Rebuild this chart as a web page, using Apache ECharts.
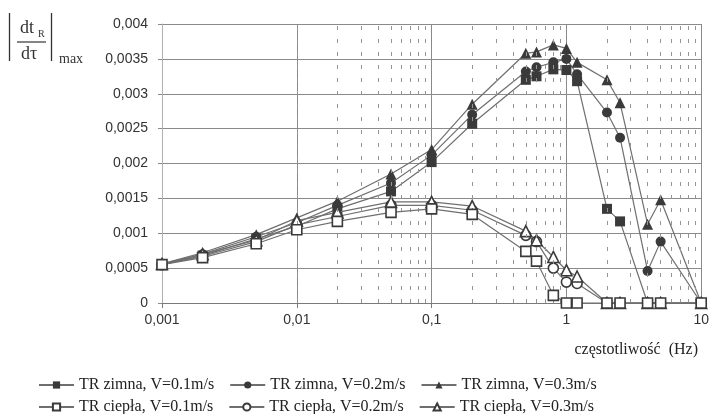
<!DOCTYPE html>
<html>
<head>
<meta charset="utf-8">
<script src="https://cdn.jsdelivr.net/npm/echarts@6/dist/echarts.min.js"></script>
<style>
  html, body { margin: 0; padding: 0; background: #fff; }
  #chart { width: 712px; height: 414px; }
</style>
</head>
<body>
<div id="chart"></div>
<script>
// Frequencies (Hz) of the measurement points
const freq = [0.001, 0.002, 0.005, 0.01, 0.02, 0.05, 0.1, 0.2, 0.5, 0.6, 0.8, 1, 1.2, 2, 2.5, 4, 5, 10];

// |dtR/dτ|max for the cold medium (TR zimna)
const zimnaV01 = [0.00055, 0.00068, 0.00092, 0.0011, 0.00135, 0.0016, 0.00202, 0.00257, 0.0032, 0.00325, 0.00335, 0.00334, 0.00318, 0.00135, 0.00117, 0, 0, 0];
const zimnaV02 = [0.00055, 0.0007, 0.00095, 0.00115, 0.0014, 0.00172, 0.00212, 0.0027, 0.00332, 0.00338, 0.00345, 0.0035, 0.00328, 0.00273, 0.00237, 0.00046, 0.00088, 0];
const zimnaV03 = [0.00056, 0.00072, 0.00098, 0.00122, 0.00146, 0.00185, 0.0022, 0.00285, 0.00358, 0.0036, 0.0037, 0.00365, 0.00345, 0.0032, 0.00287, 0.00113, 0.00148, 0];

// |dtR/dτ|max for the warm medium (TR ciepła)
const cieplaV01 = [0.00055, 0.00065, 0.00085, 0.00105, 0.00117, 0.0013, 0.00135, 0.00127, 0.00074, 0.0006, 0.00011, 0, 0, 0, 0, 0, 0, 0];
const cieplaV02 = [0.00055, 0.00067, 0.00088, 0.00112, 0.00124, 0.0014, 0.0014, 0.00133, 0.00097, 0.00088, 0.0005, 0.0003, 0.00028, 0, 0, 0, 0, 0];
const cieplaV03 = [0.00056, 0.0007, 0.0009, 0.00118, 0.0013, 0.00145, 0.00145, 0.00139, 0.00103, 0.0009, 0.00066, 0.00047, 0.00038, 0, 0, 0, 0, 0];

const seriesNames = [
  'TR zimna, V=0.1m/s', 'TR zimna, V=0.2m/s', 'TR zimna, V=0.3m/s',
  'TR ciepła, V=0.1m/s', 'TR ciepła, V=0.2m/s', 'TR ciepła, V=0.3m/s'
];
const xAxisTitle = 'częstotliwość  (Hz)';

// Decimal comma formatting for tick labels
function fmt(v) {
  if (Math.abs(v) < 1e-12) return '0';
  return String(Number(v.toPrecision(6))).replace('.', ',');
}

// Log-scale minor grid positions (2..9 within each decade)
const minorFreq = [];
[0.001, 0.01, 0.1, 1].forEach(d => {
  for (let k = 2; k <= 9; k++) minorFreq.push(Number((d * k).toPrecision(6)));
});

const markerDark = '#3a3a3a';
const lineGray = '#6f6f6f';

function mkSeries(name, values, symbol, size, hollow, z) {
  return {
    name: name,
    type: 'line',
    data: freq.map((f, i) => [f, values[i]]),
    symbol: symbol,
    symbolSize: size,
    showAllSymbol: true,
    clip: false,
    z: z,
    lineStyle: { color: lineGray, width: 1.2 },
    itemStyle: hollow
      ? { color: '#ffffff', borderColor: markerDark, borderWidth: 1.6 }
      : { color: markerDark, borderColor: markerDark, borderWidth: 0 },
    emphasis: { disabled: true },
    animation: false
  };
}

const chart = echarts.init(document.getElementById('chart'), null, { renderer: 'canvas' });

const legendText = { fontFamily: 'Liberation Serif', fontSize: 16, color: '#222' };

chart.setOption({
  backgroundColor: '#ffffff',
  animation: false,
  grid: { left: 162, right: 10, top: 24, bottom: 111, containLabel: false },
  xAxis: {
    type: 'log',
    logBase: 10,
    min: 0.001,
    max: 10,
    axisLine: { show: true, onZero: false, lineStyle: { color: '#7a7a7a', width: 1 } },
    axisTick: { show: true, length: 5, lineStyle: { color: '#7a7a7a' } },
    minorTick: { show: false },
    splitLine: { show: true, lineStyle: { color: '#8a8a8a', width: 1 } },
    axisLabel: {
      margin: 10,
      fontFamily: 'Liberation Sans',
      fontSize: 14,
      color: '#333',
      formatter: fmt
    }
  },
  yAxis: {
    type: 'value',
    min: 0,
    max: 0.004,
    interval: 0.0005,
    axisLine: { show: true, lineStyle: { color: '#b0b0b0', width: 1 } },
    axisTick: { show: true, length: 4, lineStyle: { color: '#8a8a8a' } },
    splitLine: { show: true, lineStyle: { color: '#8a8a8a', width: 1 } },
    axisLabel: {
      margin: 14,
      fontFamily: 'Liberation Sans',
      fontSize: 14,
      color: '#333',
      formatter: fmt
    }
  },
  legend: [
    {
      data: seriesNames.slice(0, 3),
      left: 33, top: 372,
      orient: 'horizontal',
      itemWidth: 35, itemHeight: 9, itemGap: 15,
      textStyle: legendText,
      selectedMode: false
    },
    {
      data: seriesNames.slice(3, 6),
      left: 33, top: 394,
      orient: 'horizontal',
      itemWidth: 35, itemHeight: 9, itemGap: 15,
      textStyle: legendText,
      selectedMode: false
    }
  ],
  series: [
    {
      name: '__minorGrid',
      type: 'line',
      data: [],
      z: 1,
      silent: true,
      markLine: {
        silent: true,
        symbol: ['none', 'none'],
        label: { show: false },
        lineStyle: { color: '#959595', width: 1, type: [4, 9] },
        emphasis: { disabled: true },
        animation: false,
        data: minorFreq.map(f => ({ xAxis: f }))
      }
    },
    mkSeries(seriesNames[0], zimnaV01, 'rect', 10, false, 3),
    mkSeries(seriesNames[1], zimnaV02, 'circle', 10, false, 3),
    mkSeries(seriesNames[2], zimnaV03, 'triangle', 11, false, 3),
    mkSeries(seriesNames[3], cieplaV01, 'rect', 10, true, 5),
    mkSeries(seriesNames[4], cieplaV02, 'circle', 10, true, 4),
    mkSeries(seriesNames[5], cieplaV03, 'triangle', 11, true, 4)
  ],
  graphic: [
    // |dtR/dτ| max
    { type: 'line', shape: { x1: 9.5, y1: 13, x2: 9.5, y2: 61 }, style: { stroke: '#333', lineWidth: 1.3 } },
    { type: 'line', shape: { x1: 51.5, y1: 13, x2: 51.5, y2: 61 }, style: { stroke: '#333', lineWidth: 1.3 } },
    { type: 'text', left: 20, top: 19, style: { text: 'dt', font: '18px "Liberation Serif"', fill: '#333' } },
    { type: 'text', left: 38, top: 29, style: { text: 'R', font: '10px "Liberation Serif"', fill: '#333' } },
    { type: 'line', shape: { x1: 17, y1: 42, x2: 46, y2: 42 }, style: { stroke: '#333', lineWidth: 1.2 } },
    { type: 'text', left: 21, top: 45, style: { text: 'dτ', font: '18px "Liberation Serif"', fill: '#333' } },
    { type: 'text', left: 59, top: 52, style: { text: 'max', font: '14px "Liberation Serif"', fill: '#333' } },
    // x axis title
    { type: 'text', right: 14, top: 342, style: { text: xAxisTitle, font: '16px "Liberation Serif"', fill: '#222' } }
  ]
});
</script>
</body>
</html>
